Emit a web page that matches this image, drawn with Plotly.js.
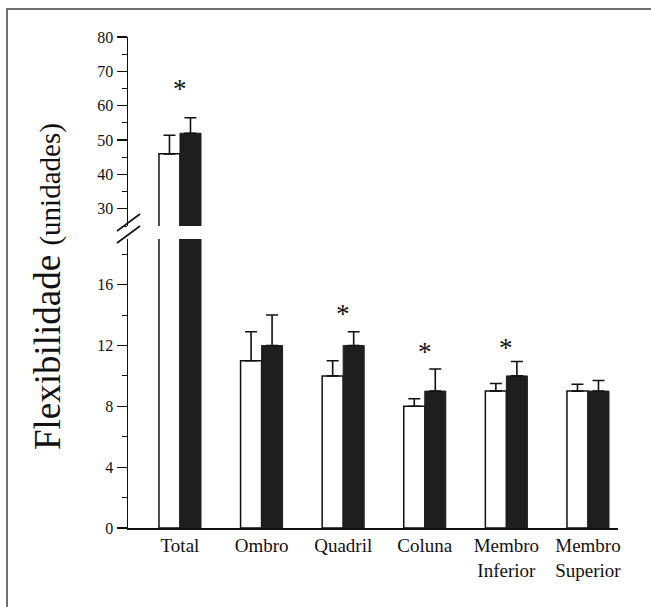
<!DOCTYPE html>
<html>
<head>
<meta charset="utf-8">
<script src="https://cdn.plot.ly/plotly-3.0.1.min.js"></script>
<style>
  html, body { margin: 0; padding: 0; background: #ffffff; }
  #chart { width: 651px; height: 607px; }
</style>
</head>
<body>
<div id="chart"></div>
<script>
// ---- data ----
const categories = ['Total', 'Ombro', 'Quadril', 'Coluna', 'Membro<br>Inferior', 'Membro<br>Superior'];
const preValues  = [46, 11, 10, 8, 9, 9];
const preErrors  = [5.4, 1.9, 1.0, 0.5, 0.5, 0.45];
const postValues = [52, 12, 12, 9, 10, 9];
const postErrors = [4.5, 2.0, 0.9, 1.45, 0.95, 0.7];
const significant = [true, false, true, true, true, false];
const starLevels  = [67, null, 14.5, 12.0, 12.3, null];
const lowerTicks = [0, 4, 8, 12, 16];
const upperTicks = [30, 40, 50, 60, 70, 80];

// ---- layout constants ----
const serif = 'Liberation Serif, Times New Roman, serif';
const lowerRange = [0, 19];
const upperRange = [25, 80];
const breakValue = 19; // top of lower panel
const upperIdx = [0]; // categories shown on upper panel

function errBar(arr, color) {
  return { type: 'data', symmetric: false, array: arr, arrayminus: arr.map(() => 0),
           color: color, thickness: 1.6, width: 6 };
}

const traces = [
  { type: 'bar', x: categories, y: preValues, yaxis: 'y', name: 'pre',
    marker: { color: '#ffffff', line: { color: '#111111', width: 1.5 } },
    error_y: errBar(preErrors, '#111111'), cliponaxis: true },
  { type: 'bar', x: categories, y: postValues, yaxis: 'y', name: 'post',
    marker: { color: '#1e1e1e', line: { color: '#1e1e1e', width: 1 } },
    error_y: errBar(postErrors, '#111111'), cliponaxis: true },
  { type: 'bar', x: upperIdx.map(i => categories[i]), y: upperIdx.map(i => preValues[i]), yaxis: 'y2', name: 'pre2',
    marker: { color: '#ffffff', line: { color: '#111111', width: 1.5 } },
    error_y: errBar(upperIdx.map(i => preErrors[i]), '#111111'), cliponaxis: true },
  { type: 'bar', x: upperIdx.map(i => categories[i]), y: upperIdx.map(i => postValues[i]), yaxis: 'y2', name: 'post2',
    marker: { color: '#1e1e1e', line: { color: '#1e1e1e', width: 1 } },
    error_y: errBar(upperIdx.map(i => postErrors[i]), '#111111'), cliponaxis: true }
];

const annotations = [];
categories.forEach((c, i) => {
  if (!significant[i]) return;
  const onUpper = starLevels[i] > breakValue;
  annotations.push({
    x: c, y: starLevels[i], xref: 'x', yref: onUpper ? 'y2' : 'y',
    text: '*', showarrow: false, xanchor: 'center', yanchor: 'middle', yshift: -7,
    font: { family: serif, size: 27, color: '#111111' }
  });
});
annotations.push({
  x: -0.163, y: 0.491, xref: 'paper', yref: 'paper', textangle: -90,
  xanchor: 'center', yanchor: 'middle', showarrow: false,
  text: "<span style='font-size:37px'>Flexibilidade</span> <span style='font-size:29px'>(unidades)</span>",
  font: { family: serif, size: 37, color: '#111111' }
});

const W = 490, H = 491; // plot area px
const px = v => (v - 128) / W;
const py = v => (528 - v) / H;
const shapes = [
  // outer frame (left + top)
  { type: 'line', xref: 'paper', yref: 'paper', x0: px(7), x1: px(7), y0: py(620), y1: py(9),
    line: { color: '#707070', width: 2 } },
  { type: 'line', xref: 'paper', yref: 'paper', x0: px(6), x1: px(660), y0: py(9), y1: py(9),
    line: { color: '#707070', width: 2 } },
  // axis break marks
  { type: 'line', xref: 'paper', yref: 'paper', x0: px(117), x1: px(140), y0: py(231), y1: py(214),
    line: { color: '#111111', width: 1.6 } },
  { type: 'line', xref: 'paper', yref: 'paper', x0: px(117), x1: px(140), y0: py(243), y1: py(226),
    line: { color: '#111111', width: 1.6 } }
];

const yCommon = {
  showline: true, linecolor: '#111111', linewidth: 1.5, showgrid: false, zeroline: false,
  ticks: 'outside', ticklen: 10, tickwidth: 1.2, tickcolor: '#111111',
  tickfont: { family: serif, size: 16, color: '#111111' }, anchor: 'x', fixedrange: true
};

const layout = {
  width: 651, height: 607,
  margin: { l: 128, r: 33, t: 37, b: 79 },
  paper_bgcolor: '#ffffff', plot_bgcolor: '#ffffff',
  showlegend: false,
  barmode: 'group', bargap: 0.485, bargroupgap: 0,
  xaxis: {
    type: 'category', range: [-0.637, 5.368], showline: true, linecolor: '#111111', linewidth: 1.5,
    ticks: '', showgrid: false, zeroline: false,
    tickfont: { family: serif, size: 19, color: '#111111' }, fixedrange: true
  },
  yaxis: Object.assign({}, yCommon, {
    domain: [0, (528 - 239) / H], range: lowerRange, tickmode: 'array', tickvals: lowerTicks,
    minor: { dtick: 2, ticks: 'outside', ticklen: 5, tickcolor: '#111111', tickwidth: 1, showgrid: false }
  }),
  yaxis2: Object.assign({}, yCommon, {
    domain: [(528 - 226) / H, 1], range: upperRange, tickmode: 'array', tickvals: upperTicks,
    minor: { dtick: 5, tick0: 0, ticks: 'outside', ticklen: 5, tickcolor: '#111111', tickwidth: 1, showgrid: false }
  }),
  annotations: annotations,
  shapes: shapes
};

Plotly.newPlot('chart', traces, layout, { displayModeBar: false, staticPlot: true });
</script>
</body>
</html>
